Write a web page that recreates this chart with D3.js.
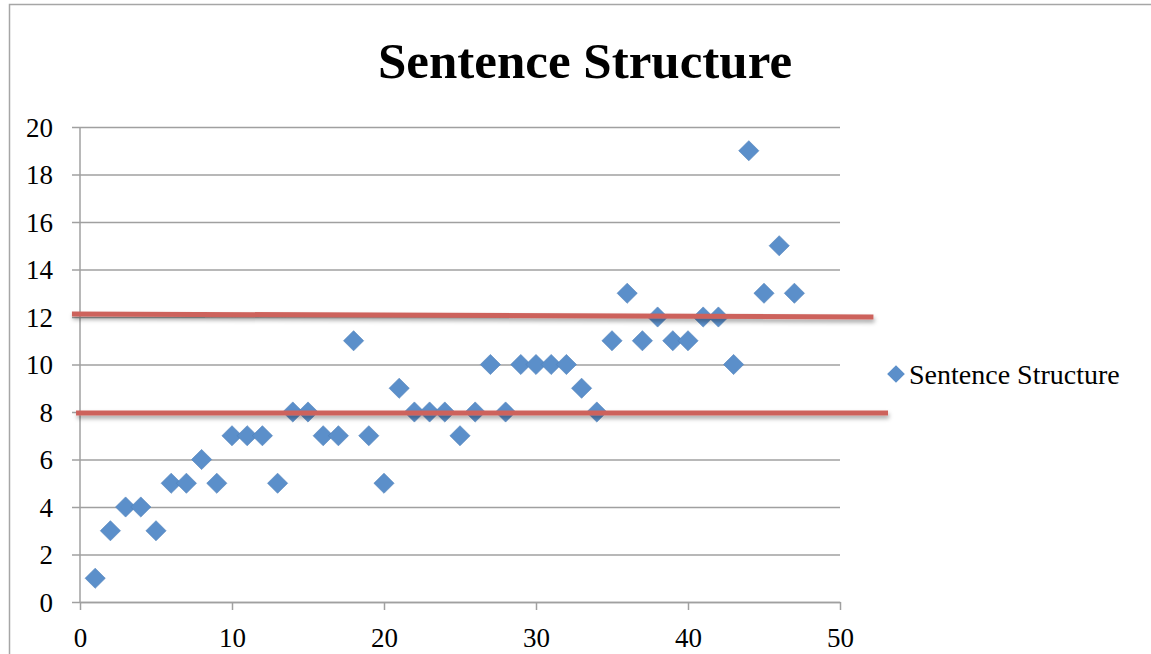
<!DOCTYPE html>
<html>
<head>
<meta charset="utf-8">
<script src="https://cdn.jsdelivr.net/npm/d3@7"></script>
<style>
  body { margin: 0; background: #fff; }
  text { font-family: "Liberation Serif", "DejaVu Serif", serif; fill: #000; }
</style>
</head>
<body>
<div id="chart"></div>
<script>
// data
const xs = d3.range(1, 48);
const ys = [1, 3, 4, 4, 3, 5, 5, 6, 5, 7, 7, 7, 5, 8, 8, 7, 7, 11, 7, 5,
            9, 8, 8, 8, 7, 8, 10, 8, 10, 10, 10, 10, 9, 8, 11, 13, 11, 12, 11, 11,
            12, 12, 10, 19, 13, 15, 13];
const xTicks = [0, 10, 20, 30, 40, 50];
const yTicks = [0, 2, 4, 6, 8, 10, 12, 14, 16, 18, 20];
// hand-drawn red bands: [x0, y0, x1, y1] in data units
const bandLines = [
  [-0.53, 12.13, 52.2, 12.0],
  [-0.26, 7.96, 53.16, 7.96]
];
const seriesName = 'Sentence Structure';
const title = 'Sentence Structure';

const width = 1151, height = 654;
const margin = {top: 127, right: 311, bottom: 52, left: 80};

const svg = d3.select('#chart').append('svg')
  .attr('width', width)
  .attr('height', height);

const defs = svg.append('defs');
const shadow = defs.append('filter').attr('id', 'shadow')
  .attr('filterUnits', 'userSpaceOnUse')
  .attr('x', 0).attr('y', 0).attr('width', width).attr('height', height);
shadow.append('feDropShadow')
  .attr('dx', 1).attr('dy', 3).attr('stdDeviation', 2)
  .attr('flood-color', '#000').attr('flood-opacity', 0.35);

// outer frame
svg.append('path')
  .attr('d', `M9.5,${height} V4.5 H${width}`)
  .attr('fill', 'none')
  .attr('stroke', '#a6a6a6')
  .attr('stroke-width', 1.5);

const x = d3.scaleLinear().domain([0, 50]).range([margin.left, width - margin.right]);
const y = d3.scaleLinear().domain([0, 20]).range([height - margin.bottom, margin.top]);

const grid = '#a0a0a0';
const plotW = x(50) - x(0);

// horizontal gridlines + y axis
const yAxis = svg.append('g')
  .attr('transform', `translate(${x(50)},0)`)
  .call(d3.axisLeft(y).tickValues(yTicks).tickSize(plotW).tickSizeOuter(0));
yAxis.select('.domain').remove();
yAxis.selectAll('.tick line')
  .attr('stroke', grid).attr('stroke-width', 1.5)
  .attr('x1', 0).attr('x2', -plotW - 8);
yAxis.selectAll('.tick text')
  .attr('x', -plotW - 27)
  .attr('font-size', 27)
  .attr('dy', '0.34em');

// y axis line
svg.append('line')
  .attr('x1', x(0)).attr('x2', x(0))
  .attr('y1', y(20)).attr('y2', y(0))
  .attr('stroke', grid).attr('stroke-width', 1.5);

// x axis
const xAxis = svg.append('g')
  .attr('transform', `translate(0,${y(0)})`)
  .call(d3.axisBottom(x).tickValues(xTicks).tickSize(8).tickSizeOuter(0).tickPadding(18));
xAxis.select('.domain').attr('stroke', grid).attr('stroke-width', 1.5);
xAxis.selectAll('.tick line').attr('stroke', grid).attr('stroke-width', 1.5);
xAxis.selectAll('.tick text')
  .attr('font-size', 27);

// scatter points
const diamond = d3.symbol().type(d3.symbolDiamond2).size(260);
const pointColor = '#5b8fca';
svg.append('g')
  .selectAll('path')
  .data(xs)
  .join('path')
  .attr('d', diamond)
  .attr('transform', (d, i) => `translate(${x(d)},${y(ys[i])})`)
  .attr('fill', pointColor)
  .attr('stroke', '#4f7fb8')
  .attr('stroke-width', 0.6);

// red band lines
svg.append('g')
  .selectAll('line')
  .data(bandLines)
  .join('line')
  .attr('x1', d => x(d[0])).attr('y1', d => y(d[1]))
  .attr('x2', d => x(d[2])).attr('y2', d => y(d[3]))
  .attr('stroke', '#cd625c')
  .attr('stroke-width', 5)
  .attr('filter', 'url(#shadow)');

// title
svg.append('text')
  .attr('x', 585).attr('y', 78)
  .attr('text-anchor', 'middle')
  .attr('font-size', 51)
  .attr('font-weight', 'bold')
  .text(title);

// legend
const legend = svg.append('g').attr('transform', `translate(896,${y(9.6)})`);
legend.append('path')
  .attr('d', d3.symbol().type(d3.symbolDiamond2).size(200))
  .attr('fill', pointColor);
legend.append('text')
  .attr('x', 13).attr('y', 0)
  .attr('dy', '0.34em')
  .attr('font-size', 28)
  .text(seriesName);
</script>
</body>
</html>
